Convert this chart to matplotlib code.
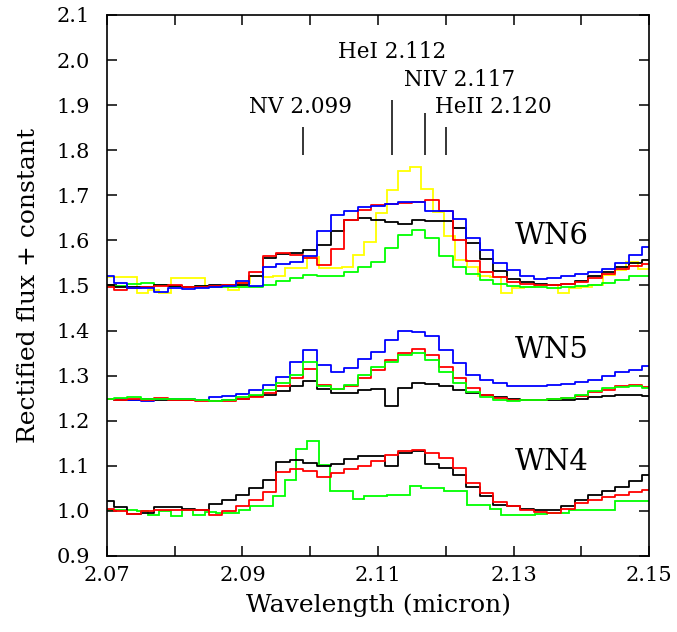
import numpy as np
import matplotlib
matplotlib.use("Agg")
import matplotlib.pyplot as plt

plt.rcParams["font.family"] = "DejaVu Serif"

# wavelength grid of the finely sampled spectra (micron)
wl = np.round(np.arange(2.070, 2.1501, 0.002), 3)

# WN6 spectra
wn6_black = [1.500, 1.497, 1.496, 1.497, 1.500, 1.498, 1.497, 1.499, 1.500, 1.500,
             1.501, 1.520, 1.560, 1.570, 1.572, 1.578, 1.590, 1.620, 1.645, 1.649,
             1.645, 1.640, 1.636, 1.645, 1.642, 1.643, 1.628, 1.595, 1.558, 1.532,
             1.515, 1.508, 1.503, 1.501, 1.504, 1.510, 1.520, 1.530, 1.542, 1.550,
             1.557]
wn6_red = [1.497, 1.490, 1.494, 1.497, 1.499, 1.500, 1.497, 1.497, 1.499, 1.501,
           1.506, 1.530, 1.565, 1.572, 1.568, 1.560, 1.546, 1.580, 1.645, 1.668,
           1.679, 1.681, 1.682, 1.686, 1.690, 1.665, 1.600, 1.555, 1.530, 1.518,
           1.508, 1.503, 1.500, 1.500, 1.503, 1.508, 1.516, 1.525, 1.536, 1.543,
           1.548]
wn6_blue = [1.521, 1.505, 1.494, 1.494, 1.486, 1.494, 1.492, 1.494, 1.496, 1.499,
            1.511, 1.499, 1.542, 1.548, 1.551, 1.565, 1.620, 1.657, 1.666, 1.673,
            1.677, 1.681, 1.685, 1.686, 1.666, 1.666, 1.648, 1.605, 1.578, 1.550,
            1.535, 1.522, 1.514, 1.516, 1.522, 1.526, 1.530, 1.537, 1.550, 1.568,
            1.586]
wn6_green = [1.499, 1.499, 1.504, 1.505, 1.501, 1.499, 1.497, 1.499, 1.496, 1.497,
             1.496, 1.497, 1.501, 1.509, 1.516, 1.523, 1.520, 1.520, 1.529, 1.540,
             1.553, 1.583, 1.612, 1.622, 1.605, 1.566, 1.540, 1.525, 1.512, 1.503,
             1.499, 1.497, 1.496, 1.495, 1.496, 1.498, 1.500, 1.505, 1.512, 1.521,
             1.520]

# WN5 spectra
wn5_black = [1.248, 1.246, 1.246, 1.248, 1.246, 1.246, 1.245, 1.246, 1.244, 1.246,
             1.248, 1.254, 1.258, 1.267, 1.278, 1.289, 1.270, 1.262, 1.262, 1.268,
             1.270, 1.232, 1.272, 1.284, 1.282, 1.276, 1.268, 1.262, 1.256, 1.252,
             1.249, 1.247, 1.246, 1.246, 1.247, 1.249, 1.252, 1.254, 1.256, 1.257,
             1.254]
wn5_red = [1.248, 1.246, 1.248, 1.246, 1.250, 1.246, 1.245, 1.244, 1.243, 1.244,
           1.248, 1.252, 1.261, 1.277, 1.294, 1.314, 1.280, 1.270, 1.276, 1.294,
           1.313, 1.335, 1.350, 1.359, 1.346, 1.320, 1.294, 1.272, 1.257, 1.250,
           1.246, 1.246, 1.246, 1.248, 1.250, 1.255, 1.263, 1.268, 1.277, 1.280,
           1.274]
wn5_blue = [1.248, 1.248, 1.246, 1.243, 1.248, 1.249, 1.249, 1.246, 1.252, 1.254,
            1.260, 1.268, 1.280, 1.298, 1.331, 1.357, 1.324, 1.307, 1.317, 1.337,
            1.353, 1.379, 1.398, 1.396, 1.387, 1.357, 1.328, 1.302, 1.291, 1.283,
            1.277, 1.277, 1.276, 1.280, 1.282, 1.285, 1.291, 1.300, 1.309, 1.313,
            1.322]
wn5_green = [1.248, 1.250, 1.252, 1.248, 1.249, 1.249, 1.248, 1.246, 1.243, 1.246,
             1.252, 1.257, 1.268, 1.283, 1.302, 1.331, 1.277, 1.270, 1.280, 1.302,
             1.320, 1.331, 1.346, 1.351, 1.335, 1.309, 1.283, 1.263, 1.252, 1.246,
             1.243, 1.246, 1.246, 1.248, 1.250, 1.257, 1.265, 1.272, 1.274, 1.277,
             1.272]

# WN4 spectra
wn4_black = [1.021, 1.008, 0.992, 0.995, 1.008, 1.008, 1.004, 1.002, 1.015, 1.025,
             1.036, 1.050, 1.068, 1.108, 1.112, 1.106, 1.100, 1.105, 1.115, 1.122,
             1.122, 1.100, 1.128, 1.132, 1.105, 1.095, 1.080, 1.052, 1.034, 1.014,
             1.010, 1.004, 1.002, 1.002, 1.010, 1.024, 1.036, 1.045, 1.054, 1.066,
             1.080]
wn4_red = [1.004, 1.000, 0.993, 1.000, 1.002, 1.002, 1.002, 1.001, 0.990, 1.000,
           1.010, 1.025, 1.043, 1.087, 1.093, 1.088, 1.076, 1.084, 1.092, 1.100,
           1.110, 1.124, 1.132, 1.134, 1.128, 1.118, 1.096, 1.062, 1.040, 1.020,
           1.010, 1.002, 0.998, 0.996, 1.004, 1.018, 1.024, 1.030, 1.036, 1.042,
           1.047]

# coarsely binned spectra (bin edges in micron)
coarse_edges = np.linspace(2.06932, 2.15, 49)
wn6_yellow = [1.518, 1.518, 1.518, 1.484, 1.490, 1.484, 1.516, 1.516, 1.516, 1.498,
              1.498, 1.489, 1.505, 1.521, 1.518, 1.521, 1.538, 1.538, 1.563, 1.538,
              1.538, 1.540, 1.568, 1.597, 1.660, 1.712, 1.753, 1.762, 1.713, 1.662,
              1.609, 1.557, 1.542, 1.520, 1.518, 1.484, 1.494, 1.497, 1.501, 1.501,
              1.484, 1.494, 1.497, 1.501, 1.524, 1.535, 1.551, 1.536]
wn4_green = [1.002, 1.002, 1.002, 1.000, 0.991, 1.000, 0.988, 1.002, 0.991, 0.998,
             0.995, 0.995, 1.001, 1.011, 1.011, 1.034, 1.069, 1.138, 1.156, 1.102,
             1.045, 1.045, 1.026, 1.034, 1.034, 1.036, 1.036, 1.056, 1.050, 1.050,
             1.045, 1.045, 1.013, 1.013, 1.005, 0.991, 0.991, 0.991, 0.993, 0.995,
             0.995, 1.002, 1.002, 1.002, 1.002, 1.021, 1.021, 1.021]

# line identifications
line_names = ["NV 2.099", "HeI 2.112", "NIV 2.117", "HeII 2.120"]
line_wl = [2.099, 2.112, 2.117, 2.120]
line_top = [1.852, 1.912, 1.883, 1.852]
label_xy = [(2.0986, 1.896), (2.1121, 2.018), (2.1221, 1.956), (2.1270, 1.896)]

groups = ["WN6", "WN5", "WN4"]
group_y = [1.610, 1.357, 1.108]

fig, ax = plt.subplots(figsize=(6.77, 6.32), dpi=100)
fig.subplots_adjust(left=0.158, right=0.9587, bottom=0.1203, top=0.9763)

lw = 1.3
ax.stairs(wn6_yellow, coarse_edges, baseline=None, color="#ffff00", lw=lw)
ax.step(wl, wn6_green, where="mid", color="#00ff00", lw=lw)
ax.step(wl, wn6_black, where="mid", color="black", lw=lw)
ax.step(wl, wn6_red, where="mid", color="#ff0000", lw=lw)
ax.step(wl, wn6_blue, where="mid", color="#0000ff", lw=lw)

ax.step(wl, wn5_black, where="mid", color="black", lw=lw)
ax.step(wl, wn5_blue, where="mid", color="#0000ff", lw=lw)
ax.step(wl, wn5_red, where="mid", color="#ff0000", lw=lw)
ax.step(wl, wn5_green, where="mid", color="#00ff00", lw=lw)

ax.stairs(wn4_green, coarse_edges, baseline=None, color="#00ff00", lw=lw)
ax.step(wl, wn4_black, where="mid", color="black", lw=lw)
ax.step(wl, wn4_red, where="mid", color="#ff0000", lw=lw)

# line markers and labels
ax.vlines(line_wl, 1.79, line_top, color="black", lw=1.1)
for name, (tx, ty) in zip(line_names, label_xy):
    ax.text(tx, ty, name, ha="center", va="center", fontsize=15.5)

for name, gy in zip(groups, group_y):
    ax.text(2.1357, gy, name, ha="center", va="center", fontsize=21)

ax.set_xlim(2.07, 2.15)
ax.set_ylim(0.9, 2.1)
xt = np.round(np.arange(2.07, 2.1501, 0.01), 2)
ax.set_xticks(xt)
ax.set_xticklabels(["%.2f" % v if i % 2 == 0 else "" for i, v in enumerate(xt)])
yt = np.round(np.arange(0.9, 2.1001, 0.1), 1)
ax.set_yticks(yt)
ax.set_yticklabels(["%.1f" % v for v in yt])
ax.tick_params(direction="in", top=True, right=True, length=7, width=1.1,
               labelsize=15)
ax.tick_params(axis="x", pad=7)
ax.tick_params(axis="y", pad=12)
for sp in ax.spines.values():
    sp.set_linewidth(1.2)

ax.set_xlabel("Wavelength (micron)", fontsize=18, labelpad=6)
ax.set_ylabel("Rectified flux + constant", fontsize=18, labelpad=12)

fig.savefig("out.png", dpi=100)
